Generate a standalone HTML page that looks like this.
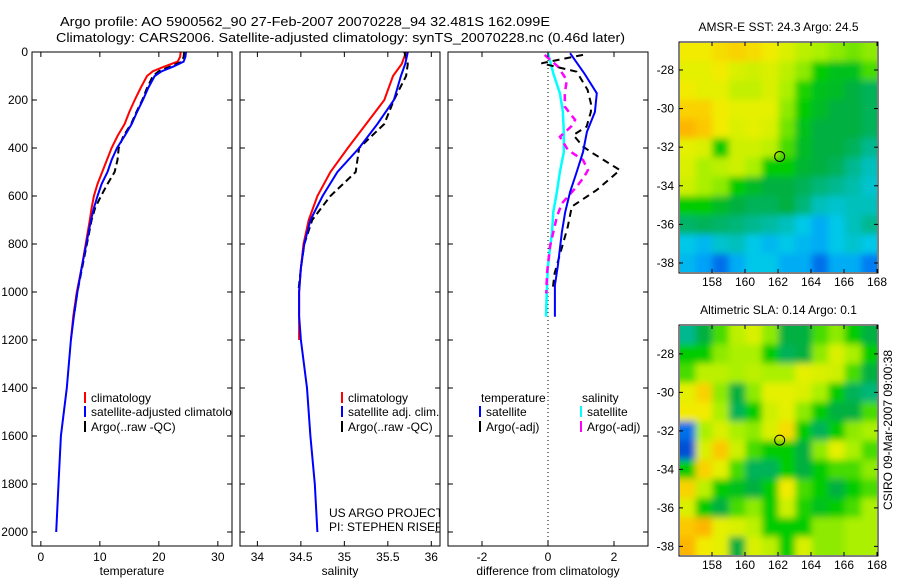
<!DOCTYPE html>
<html><head><meta charset="utf-8"><style>
html,body{margin:0;padding:0;background:#fff;}
svg{display:block;font-family:"Liberation Sans",sans-serif;}
</style></head><body>
<svg id="fig" width="900" height="580" viewBox="0 0 900 580">
<defs>
<filter id="blur" x="-5%" y="-5%" width="110%" height="110%"><feGaussianBlur stdDeviation="3.5"/></filter>
<clipPath id="clip1"><rect x="32" y="52" width="200" height="494"/></clipPath>
<clipPath id="clip2"><rect x="240" y="52" width="200" height="494"/></clipPath>
<clipPath id="clip3"><rect x="448" y="52" width="200" height="494"/></clipPath>
<clipPath id="mclip0"><rect x="680" y="43" width="197" height="229"/></clipPath>
<clipPath id="mclip1"><rect x="680" y="326" width="197" height="229"/></clipPath>
</defs>
<text x="60" y="26" font-size="13" textLength="490" lengthAdjust="spacingAndGlyphs">Argo profile: AO 5900562_90 27-Feb-2007 20070228_94 32.481S 162.099E</text>
<text x="56" y="42" font-size="13" textLength="569" lengthAdjust="spacingAndGlyphs">Climatology: CARS2006. Satellite-adjusted climatology: synTS_20070228.nc (0.46d later)</text>
<g id="plots"></g>
<text transform="translate(892,430) rotate(-90)" text-anchor="middle" font-size="12">CSIRO 09-Mar-2007 09:00:38</text>
</svg>
<script>
// ---- data ----
const depthT = [0,20,40,60,80,100,150,200,250,300,350,400,450,500,550,600,650,700,800,900,1000,1100,1200,1400,1600,1800,2000];
const climT = [23.7,23.6,23.2,21,19,18,16.9,15.9,15,14.2,13,12,11.2,10.4,9.6,9,8.6,8.3,7.6,6.9,6.1,5.5,5.1];
const satT = [24.6,24.5,24.2,22.5,20.5,19.3,18.2,17.3,16.3,15.4,14.2,12.9,12.0,11.3,10.3,9.6,9.0,8.5,7.7,6.9,6.2,5.6,5.1,4.4,3.4,3.0,2.6];
const argoT = [24.3,24.2,23.9,22,20,19,18,17.2,16.2,15.3,14.0,13.2,13.0,12.5,11.3,10.2,9.2,8.6,7.8,7.0,6.2,5.6];
const depthS = [0,50,100,200,300,400,500,600,700,800,900,1000,1100,1200,1400,1600,1800,2000];
const climS = [35.71,35.66,35.56,35.46,35.25,35.04,34.84,34.69,34.59,34.53,34.50,34.48,34.48,34.48];
const satS = [35.73,35.70,35.65,35.57,35.38,35.17,34.92,34.75,34.61,34.54,34.50,34.48,34.48,34.50,34.57,34.61,34.66,34.69];
const argoS = [35.69,35.73,35.71,35.57,35.46,35.17,35.13,34.84,34.63,34.54,34.50,34.47];
const depthD1 = [5,89,172,250,333,417,500,583,667,750,889,972,1103];
const satTdiff = [0.67,1.1,1.48,1.42,1.18,1.06,0.87,0.67,0.52,0.42,0.3,0.21,0.21];
const satSdiff = [0.0,0.16,0.36,0.45,0.48,0.48,0.36,0.27,0.16,0.12,0.0,-0.03,-0.06];
const depthD2 = [12,47,82,158,214,249,311,346,394,422,492,575,644,728,922,978];
const argoTdiff = [1.06,-0.2,0.87,1.2,1.3,1.3,1.17,0.77,1.06,1.36,2.18,1.48,0.72,0.6,0.2,0.15];
const depthD3 = [12,61,117,172,228,283,311,353,408,450,492,519,561,631,686,811,922,1006];
const argoSdiff = [-0.1,0.3,0.57,0.51,0.51,0.82,0.7,0.36,0.6,1.06,1.21,1.1,0.87,0.42,0.27,0.06,-0.03,-0.05];
const sstGrid = [
[.75,.75,.78,.8,.78,.75,.7,.65,.62,.6,.58,.6],
[.72,.72,.75,.7,.68,.7,.65,.6,.5,.48,.48,.55],
[.75,.72,.72,.66,.66,.7,.62,.52,.48,.47,.45,.42],
[.8,.8,.75,.72,.72,.72,.6,.5,.47,.45,.45,.42],
[.85,.82,.75,.7,.72,.7,.58,.48,.45,.45,.45,.42],
[.72,.7,.5,.68,.68,.65,.55,.47,.45,.45,.42,.35],
[.7,.62,.65,.68,.62,.5,.5,.46,.45,.42,.35,.3],
[.68,.62,.6,.5,.47,.45,.45,.42,.38,.35,.32,.28],
[.5,.5,.47,.45,.42,.42,.45,.38,.3,.28,.3,.3],
[.4,.42,.4,.38,.35,.33,.3,.25,.2,.25,.3,.35],
[.25,.22,.28,.3,.25,.22,.25,.22,.2,.25,.28,.25],
[.22,.18,.1,.2,.25,.25,.2,.2,.1,.2,.2,.12]];
const slaGrid = [
[.35,.45,.55,.65,.7,.6,.45,.45,.55,.6,.5,.45],
[.5,.5,.6,.62,.62,.5,.42,.45,.6,.7,.62,.5],
[.55,.65,.65,.62,.65,.62,.62,.72,.7,.68,.55,.45],
[.72,.8,.6,.45,.6,.72,.72,.7,.62,.5,.42,.38],
[.75,.75,.62,.42,.5,.68,.72,.6,.5,.45,.45,.55],
[.1,.62,.7,.62,.6,.7,.78,.5,.42,.5,.6,.62],
[.05,.7,.82,.68,.55,.5,.5,.45,.6,.72,.62,.55],
[.5,.8,.72,.55,.42,.42,.5,.45,.5,.55,.55,.6],
[.8,.65,.5,.48,.45,.5,.75,.55,.5,.45,.5,.55],
[.7,.5,.45,.55,.6,.5,.68,.52,.48,.5,.55,.62],
[.82,.85,.72,.7,.65,.5,.5,.5,.6,.6,.62,.62],
[.85,.75,.72,.45,.7,.65,.5,.7,.6,.6,.62,.62]];
const depthTicks = [0,200,400,600,800,1000,1200,1400,1600,1800,2000];
const tTicks = [0,10,20,30];
const sTicks = [34,34.5,35,35.5,36];
const dTicks = [-2,0,2];
const lonTicks = [158,160,162,164,166,168];
const latTicks = [-28,-30,-32,-34,-36,-38];
const floatLon = 162.1, floatLat = -32.48;

const NS='http://www.w3.org/2000/svg';
const root=document.getElementById('plots');
function mk(tag,attrs,parent){const e=document.createElementNS(NS,tag);for(const k in attrs)e.setAttribute(k,attrs[k]);(parent||root).appendChild(e);return e;}
const PT=52, PB=546;
const yD=d=>PT+d*0.24;

function panel(x0,x1,xmin,xmax,ticks,label,name,showY,clip){
  const g=mk('g',{});
  
  
  const xs=v=>x0+(v-xmin)/(xmax-xmin)*(x1-x0);
  mk('rect',{x:x0,y:PT,width:x1-x0,height:PB-PT,fill:'#fff',stroke:'none'},g);
  const inner=mk('g',{'clip-path':'url(#'+clip+')'},g);
  ticks.forEach(t=>{const x=xs(t);
    mk('line',{x1:x,x2:x,y1:PB,y2:PB-5,stroke:'#000'},g);
    mk('line',{x1:x,x2:x,y1:PT,y2:PT+5,stroke:'#000'},g);
    const tx=mk('text',{x:x,y:PB+15,'font-size':12,'text-anchor':'middle'},g);tx.textContent=String(t);
    
    
  });
  depthTicks.forEach(d=>{const y=yD(d);
    mk('line',{x1:x0,x2:x0+5,y1:y,y2:y,stroke:'#000'},g);
    mk('line',{x1:x1,x2:x1-5,y1:y,y2:y,stroke:'#000'},g);
    if(showY){const tx=mk('text',{x:x0-4,y:y+4,'font-size':12,'text-anchor':'end'},g);tx.textContent=String(d);
      
      }
  });
  const lb=mk('text',{x:(x0+x1)/2,y:575,'font-size':12,'text-anchor':'middle'},g);lb.textContent=label;
  
  
  const frame=mk('rect',{x:x0,y:PT,width:x1-x0,height:PB-PT,fill:'none',stroke:'#000','stroke-width':1},g);
  return {g:inner,outer:g,frame,xs};
}
function series(p,depths,vals,color,dash,name,w){
  const pts=[];for(let i=0;i<vals.length;i++)pts.push(p.xs(vals[i]).toFixed(1)+','+yD(depths[i]).toFixed(1));
  const a={points:pts.join(' '),fill:'none',stroke:color,'stroke-width':w||2};
  if(dash)a['stroke-dasharray']=dash;
  const e=mk('polyline',a,p.g);
  
  
}
function legend(g,x,y,color,text,name){
  mk('rect',{x:x,y:y-10,width:2,height:11,fill:color},g);
  const t=mk('text',{x:x+7,y:y,'font-size':12},g);t.textContent=text;
  
  
}

const p1=panel(32,232,-1.5,32.4,tTicks,'temperature','temperature-panel',true,'clip1');
series(p1,depthT,climT,'#f00',null,'temperature-climatology-line');
series(p1,depthT,argoT,'#000','7,4','temperature-argo-line');
series(p1,depthT,satT,'#00f',null,'temperature-satellite-line');
legend(p1.g,84,402,'#f00','climatology','legend-climatology');
legend(p1.g,84,416,'#00f','satellite-adjusted climatology','legend-satellite');
legend(p1.g,84,431,'#000','Argo(..raw -QC)','legend-argo');

const p2=panel(240,440,33.8,36.1,sTicks,'salinity','salinity-panel',false,'clip2');
series(p2,depthS,climS,'#f00',null,'salinity-climatology-line');
series(p2,depthS,argoS,'#000','7,4','salinity-argo-line');
series(p2,depthS,satS,'#00f',null,'salinity-satellite-line');
legend(p2.g,341,402,'#f00','climatology','legend-climatology');
legend(p2.g,341,416,'#00f','satellite adj. clim.','legend-satellite');
legend(p2.g,341,431,'#000','Argo(..raw -QC)','legend-argo');
[['US ARGO PROJECT',517],['PI: STEPHEN RISER',531]].forEach(([s,y])=>{const t=mk('text',{x:329,y:y,'font-size':12},p2.g);t.textContent=s;
  
  });

const p3=panel(448,648,-3.03,3.03,dTicks,'difference from climatology','difference-panel',false,'clip3');
mk('line',{x1:p3.xs(0),x2:p3.xs(0),y1:PT,y2:PB,stroke:'#000','stroke-dasharray':'1,3'},p3.g);
series(p3,depthD1,satSdiff,'#0ff',null,'salinity-satellite-diff-line',2.5);
series(p3,depthD3,argoSdiff,'#f0f','7,5','salinity-argo-diff-line',2.5);
series(p3,depthD2,argoTdiff,'#000','7,5','temperature-argo-diff-line',2);
series(p3,depthD1,satTdiff,'#00f',null,'temperature-satellite-diff-line',2);
{const t=mk('text',{x:481,y:402,'font-size':12},p3.g);t.textContent='temperature';}
{const t=mk('text',{x:582,y:402,'font-size':12},p3.g);t.textContent='salinity';}
legend(p3.g,479,416,'#00f','satellite','legend-temp-satellite');
legend(p3.g,479,431,'#000','Argo(-adj)','legend-temp-argo');
legend(p3.g,580,416,'#0ff','satellite','legend-sal-satellite');
legend(p3.g,580,431,'#f0f','Argo(-adj)','legend-sal-argo');

// ---- maps ----
const stops=[[0,[0,48,192]],[.15,[0,144,255]],[.25,[0,200,232]],[.35,[0,184,144]],[.45,[0,176,64]],[.5,[0,204,0]],[.62,[170,240,0]],[.74,[240,240,0]],[.84,[255,190,0]],[.92,[240,128,0]]];
function cmap(v){for(let i=1;i<stops.length;i++){if(v<=stops[i][0]){const a=stops[i-1],b=stops[i],f=(v-a[0])/(b[0]-a[0]);
  return 'rgb('+a[1].map((c,k)=>Math.round(c+(b[1][k]-c)*f)).join(',')+')';}}return 'rgb(240,128,0)';}
function map(y0,y1,latTop,latBot,grid,title,name,clip){
  const x0=679,x1=878,lonL=156.0,lonR=168.06;
  const g=mk('g',{});
  
  
  const xs=l=>x0+(l-lonL)/(lonR-lonL)*(x1-x0);
  const ys=l=>y0+(latTop-l)/(latTop-latBot)*(y1-y0);
  const rows=grid.length,cols=grid[0].length;
  const cw=(x1-x0)/cols,ch=(y1-y0)/rows;
  const cg=mk('g',{'clip-path':'url(#'+clip+')'},g);
  const bg=mk('g',{filter:'url(#blur)'},cg);
  grid.forEach((row,r)=>row.forEach((v,c)=>{
    const ex=(c==0?-8:0), ew=(c==cols-1?8:0)-ex, ey=(r==0?-8:0), eh=(r==rows-1?8:0)-ey;
    const e=mk('rect',{x:(x0+c*cw+ex).toFixed(1),y:(y0+r*ch+ey).toFixed(1),width:(cw+0.6+ew).toFixed(1),height:(ch+0.6+eh).toFixed(1),fill:cmap(v)},bg);
    
    
  }));
  mk('rect',{x:x0,y:y0,width:x1-x0,height:y1-y0,fill:'none',stroke:'#000'},g);
  lonTicks.forEach(l=>{const x=xs(l);
    mk('line',{x1:x,x2:x,y1:y0,y2:y0+4,stroke:'#000'},g);
    mk('line',{x1:x,x2:x,y1:y1,y2:y1-4,stroke:'#000'},g);
    const t=mk('text',{x:x,y:y1+13,'font-size':12,'text-anchor':'middle'},g);t.textContent=String(l);
    
    });
  latTicks.forEach(l=>{const y=ys(l);
    mk('line',{x1:x0,x2:x0+4,y1:y,y2:y,stroke:'#000'},g);
    mk('line',{x1:x1,x2:x1-4,y1:y,y2:y,stroke:'#000'},g);
    const t=mk('text',{x:x0-5,y:y+4,'font-size':12,'text-anchor':'end'},g);t.textContent=String(l);
    
    });
  const c=mk('circle',{cx:xs(floatLon),cy:ys(floatLat),r:5,fill:'none',stroke:'#000'},g);
  
  
  const t=mk('text',{x:(x0+x1)/2,y:y0-11,'font-size':12,'text-anchor':'middle'},g);t.textContent=title;
  
  
}
map(42,273,-26.55,-38.52,sstGrid,'AMSR-E SST: 24.3 Argo: 24.5','sst-map','mclip0');
map(325,556,-26.5,-38.5,slaGrid,'Altimetric SLA: 0.14 Argo: 0.1','sla-map','mclip1');
</script>
</body></html>
